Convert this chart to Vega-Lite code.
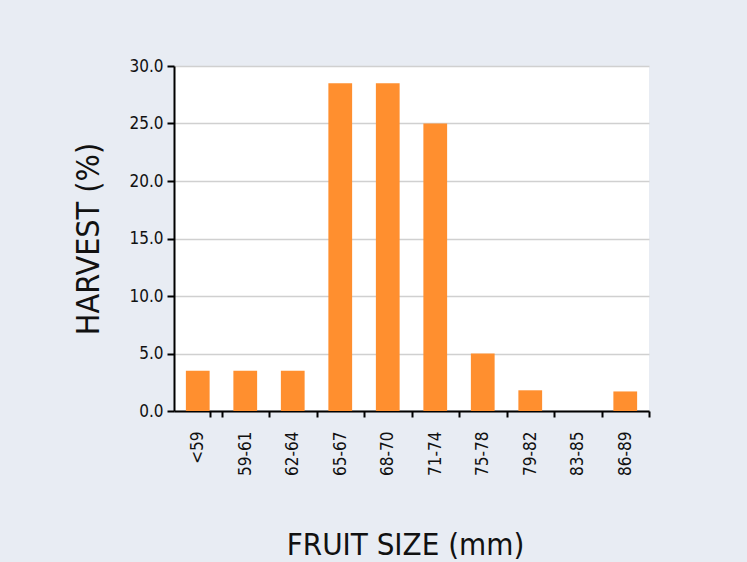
{
  "$schema": "https://vega.github.io/schema/vega-lite/v6.json",
  "autosize": {"type": "none"},
  "padding": {"left": 174, "top": 66, "right": 98, "bottom": 151},
  "width": 475,
  "height": 345,
  "background": "#e8ecf3",
  "config": {
    "view": {"fill": "#ffffff", "stroke": null},
    "font": "DejaVu Sans Condensed, Liberation Sans Narrow, Roboto, sans-serif"
  },
  "data": {
    "values": [
      {"size": "<59", "harvest": 3.5},
      {"size": "59-61", "harvest": 3.5},
      {"size": "62-64", "harvest": 3.5},
      {"size": "65-67", "harvest": 28.5},
      {"size": "68-70", "harvest": 28.5},
      {"size": "71-74", "harvest": 25.0},
      {"size": "75-78", "harvest": 5.0},
      {"size": "79-82", "harvest": 1.8},
      {"size": "83-85", "harvest": 0},
      {"size": "86-89", "harvest": 1.7}
    ]
  },
  "mark": {"type": "bar", "color": "#ff8f2f"},
  "encoding": {
    "x": {
      "field": "size",
      "type": "nominal",
      "sort": null,
      "scale": {"paddingInner": 0.5, "paddingOuter": 0.25},
      "axis": {
        "title": "FRUIT SIZE (mm)",
        "titleFontSize": 31,
        "titleFontWeight": "normal",
        "titleColor": "#111111",
        "titleBaseline": "alphabetic",
        "titleY": 143,
        "titleX": 231,
        "labelAngle": -90,
        "labelAlign": "right",
        "labelBaseline": "middle",
        "labelFontSize": 17,
        "labelColor": "#111111",
        "labelPadding": 14,
        "ticks": true,
        "tickOffset": 23.75,
        "tickExtra": true,
        "labelOffset": -23.75,
        "tickColor": "#000000",
        "tickWidth": 2,
        "tickSize": 6,
        "tickOpacity": 1,
        "domainColor": "#000000",
        "domainWidth": 2,
        "grid": false
      }
    },
    "y": {
      "field": "harvest",
      "type": "quantitative",
      "scale": {"domain": [0, 30], "nice": false},
      "axis": {
        "title": "HARVEST (%)",
        "titleFontSize": 32,
        "titleFontWeight": "normal",
        "titleColor": "#111111",
        "titleBaseline": "alphabetic",
        "titleX": -76,
        "values": [0, 5, 10, 15, 20, 25, 30],
        "format": ".1f",
        "labelFontSize": 17,
        "labelColor": "#111111",
        "labelPadding": 4,
        "tickColor": "#000000",
        "tickWidth": 2,
        "tickSize": 7,
        "domainColor": "#000000",
        "domainWidth": 2,
        "gridColor": "#d0d0d0",
        "gridWidth": 1.5
      }
    }
  }
}
